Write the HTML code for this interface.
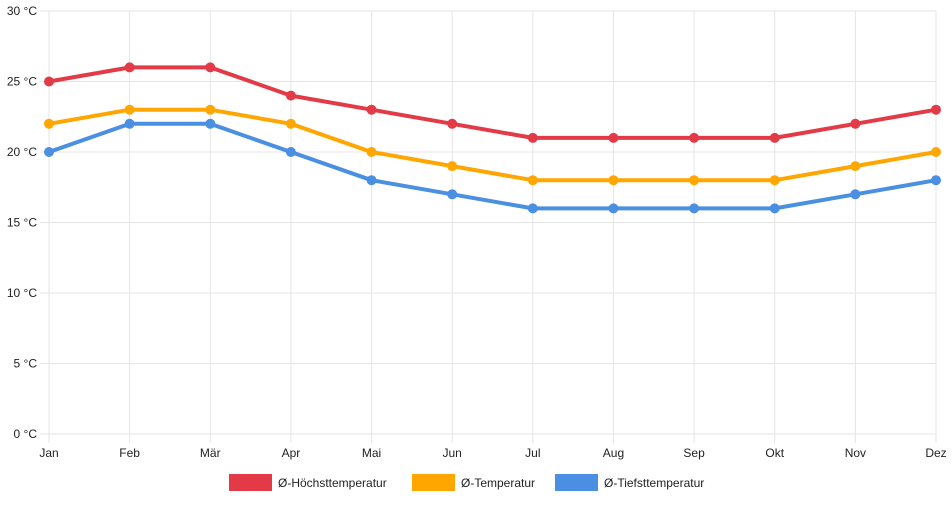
<!DOCTYPE html>
<html><head><meta charset="utf-8"><style>
body{margin:0;background:#fff;font-family:"Liberation Sans",sans-serif}
svg text{font-family:"Liberation Sans",sans-serif;font-size:12px;fill:#222}
</style></head><body>
<svg id="c" width="952" height="500"></svg>
<script>
const months=["Jan","Feb","Mär","Apr","Mai","Jun","Jul","Aug","Sep","Okt","Nov","Dez"];
const maxTemp=[25,26,26,24,23,22,21,21,21,21,22,23];
const avgTemp=[22,23,23,22,20,19,18,18,18,18,19,20];
const minTemp=[20,22,22,20,18,17,16,16,16,16,17,18];
const yTicks=[0,5,10,15,20,25,30];
const NS="http://www.w3.org/2000/svg";
const svg=document.getElementById('c');
const x0=49,x1=936,y0=434,y1=11;
const xs=i=>x0+i*(x1-x0)/(months.length-1);
const ys=v=>y0-(v/30)*(y0-y1);
function mk(t,a){const e=document.createElementNS(NS,t);for(const k in a)e.setAttribute(k,a[k]);svg.appendChild(e);return e;}
yTicks.forEach(v=>{
 const l=mk('line',{x1:40,x2:x1,y1:ys(v),y2:ys(v),stroke:'#e5e5e5','stroke-width':1});
 
 
 const t=mk('text',{x:37,y:ys(v)+4,'text-anchor':'end'});t.textContent=v+' °C';
 
 
});
months.forEach((m,i)=>{
 const l=mk('line',{x1:xs(i),x2:xs(i),y1:y1,y2:y0+9,stroke:'#e5e5e5','stroke-width':1});
 
 
 const t=mk('text',{x:xs(i),y:y0+23,'text-anchor':'middle'});t.textContent=m;
 
 
});
const series=[[maxTemp,'#e23b47','max'],[avgTemp,'#ffa600','avg'],[minTemp,'#4a8fe2','min']];
series.forEach(([d,c,n])=>{
 const p=mk('polyline',{points:d.map((v,i)=>xs(i)+','+ys(v)).join(' '),fill:'none',stroke:c,'stroke-width':4,'stroke-linejoin':'round'});
 
 
 d.forEach((v,i)=>{const ci=mk('circle',{cx:xs(i),cy:ys(v),r:5,fill:c});
  
  });
});
const leg=[['#e23b47',229,'Ø-Höchsttemperatur'],['#ffa600',412,'Ø-Temperatur'],['#4a8fe2',555,'Ø-Tiefsttemperatur']];
leg.forEach(([c,x,s])=>{
 const r=mk('rect',{x:x,y:474,width:43,height:17,fill:c});
 
 
 const t=mk('text',{x:x+49,y:487});t.textContent=s;
 
 
});
</script>
</body></html>
